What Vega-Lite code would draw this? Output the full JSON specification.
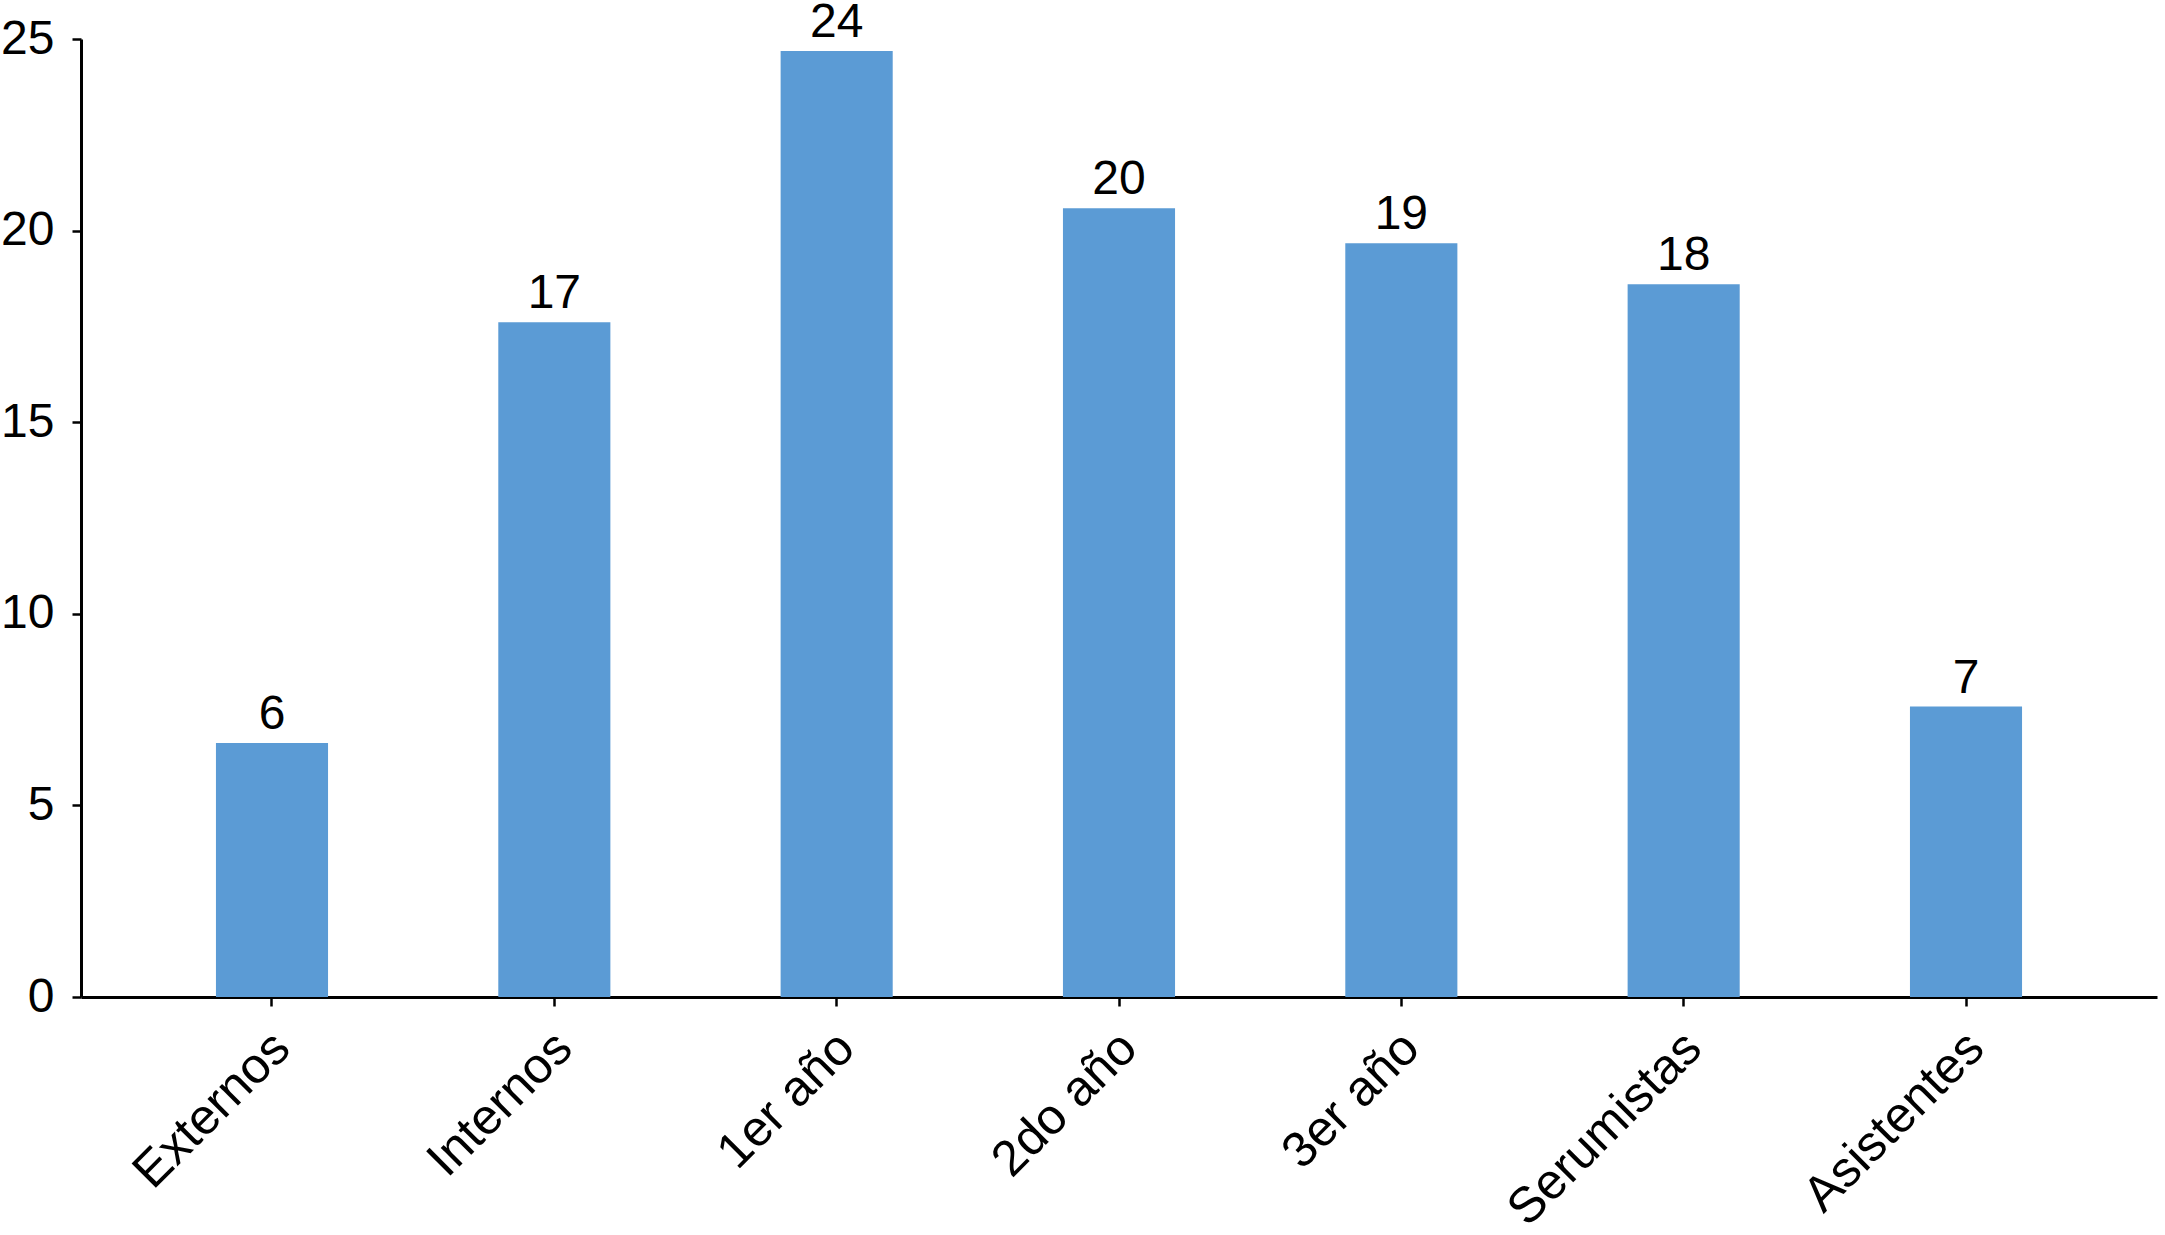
{
  "$schema": "https://vega.github.io/schema/vega-lite/v6.json",
  "width": 2076,
  "height": 958,
  "autosize": {"type": "none"},
  "padding": {"left": 81, "top": 39, "right": 8, "bottom": 238},
  "background": "white",
  "config": {
    "view": {"stroke": null},
    "font": "Liberation Sans"
  },
  "data": {
    "values": [
      {"grupo": "Externos", "valor": 6.63, "etiqueta": "6"},
      {"grupo": "Internos", "valor": 17.61, "etiqueta": "17"},
      {"grupo": "1er año", "valor": 24.69, "etiqueta": "24"},
      {"grupo": "2do año", "valor": 20.58, "etiqueta": "20"},
      {"grupo": "3er año", "valor": 19.67, "etiqueta": "19"},
      {"grupo": "Serumistas", "valor": 18.6, "etiqueta": "18"},
      {"grupo": "Asistentes", "valor": 7.58, "etiqueta": "7"}
    ]
  },
  "encoding": {
    "x": {
      "field": "grupo",
      "type": "nominal",
      "sort": null,
      "scale": {"paddingInner": 0.603, "paddingOuter": 0.478},
      "axis": {
        "title": null,
        "labelAngle": -45,
        "labelAlign": "right",
        "labelBaseline": "middle",
        "labelFontSize": 50,
        "labelColor": "black",
        "labelLimit": 0,
        "labelPadding": 34,
        "labelOffset": 10,
        "tickSize": 9,
        "tickWidth": 2.5,
        "tickColor": "black",
        "domainColor": "black",
        "domainWidth": 3,
        "grid": false
      }
    },
    "y": {
      "field": "valor",
      "type": "quantitative",
      "scale": {"domain": [0, 25], "nice": false},
      "axis": {
        "title": null,
        "values": [0, 5, 10, 15, 20, 25],
        "labelFontSize": 48,
        "labelColor": "black",
        "labelPadding": 18,
        "tickSize": 9,
        "tickWidth": 2.5,
        "tickColor": "black",
        "domainColor": "black",
        "domainWidth": 3,
        "grid": false
      }
    }
  },
  "layer": [
    {"mark": {"type": "bar", "color": "#5B9BD5"}},
    {
      "mark": {"type": "text", "fontSize": 48, "color": "black", "baseline": "alphabetic", "dy": -14},
      "encoding": {"text": {"field": "etiqueta"}}
    }
  ]
}
